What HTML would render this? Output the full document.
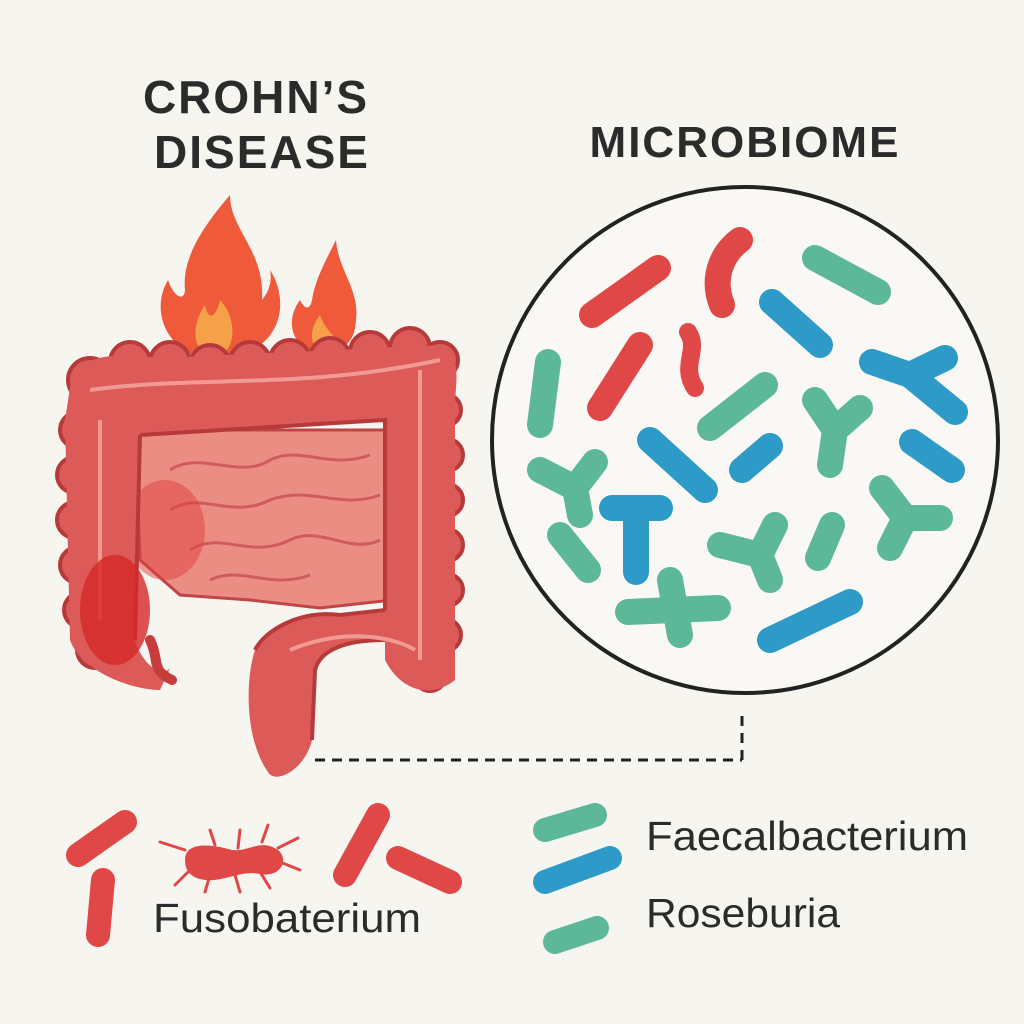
<!DOCTYPE html>
<html><head><meta charset="utf-8"><style>
html,body{margin:0;padding:0;background:#f7f5f0;}
svg{display:block}
</style></head><body>
<svg width="1024" height="1024" viewBox="0 0 1024 1024" xmlns="http://www.w3.org/2000/svg">
<rect width="1024" height="1024" fill="#f7f5f0"/>
<g font-family="Liberation Sans, sans-serif" font-weight="bold" fill="#2b2b2b" text-anchor="middle">
<text x="256" y="113" font-size="46" letter-spacing="2">CROHN’S</text>
<text x="262" y="168" font-size="46" letter-spacing="2">DISEASE</text>
<text x="745" y="157" font-size="44" letter-spacing="2">MICROBIOME</text>
</g>
<!-- flames -->
<path d="M215 360 C165 355 150 310 168 280 C175 300 185 300 185 290 C182 260 200 230 230 195 C230 230 265 250 262 300 C270 290 272 280 270 270 C290 300 285 355 215 360Z" fill="#ee5a3a"/>
<path d="M215 358 C195 355 188 330 205 305 C208 320 215 320 220 300 C235 315 240 350 215 358Z" fill="#f6a04a"/>
<path d="M322 352 C290 350 285 320 300 300 C305 310 310 310 312 300 C315 280 325 262 336 240 C338 270 360 290 356 320 C355 345 340 352 322 352Z" fill="#ee5a3a"/>
<path d="M322 350 C310 348 308 330 320 315 C325 330 335 335 335 340 C333 348 328 350 322 350Z" fill="#f6a04a"/>
<!-- small intestine -->
<path d="M135 430 L390 430 L392 600 L320 608 L250 600 L180 595 L140 560Z" fill="#ec8d84" stroke="#c14545" stroke-width="3"/>
<g fill="none" stroke="#c85050" stroke-width="3" opacity="0.8">
<path d="M170 470 C200 450 240 480 270 460 C300 445 330 470 370 455"/>
<path d="M170 510 C200 490 230 520 270 500 C310 485 340 510 380 495"/>
<path d="M190 550 C220 530 250 560 290 540 C320 525 350 555 380 540"/>
<path d="M210 580 C240 565 270 590 310 575"/>
</g>
<ellipse cx="165" cy="530" rx="40" ry="50" fill="#e04040" opacity="0.5"/>
<!-- haustra bumps -->
<g fill="#dc5a58" stroke="#b73a3a" stroke-width="4">
<circle cx="90" cy="380" r="22"/><circle cx="130" cy="362" r="20"/><circle cx="170" cy="362" r="20"/><circle cx="210" cy="365" r="20"/><circle cx="250" cy="362" r="20"/><circle cx="290" cy="360" r="20"/><circle cx="330" cy="358" r="20"/><circle cx="370" cy="352" r="20"/><circle cx="410" cy="348" r="20"/><circle cx="440" cy="360" r="18"/>
<circle cx="78" cy="430" r="18"/><circle cx="75" cy="475" r="18"/><circle cx="75" cy="520" r="18"/><circle cx="78" cy="565" r="18"/><circle cx="82" cy="610" r="18"/><circle cx="95" cy="650" r="18"/>
<circle cx="445" cy="410" r="16"/><circle cx="447" cy="455" r="16"/><circle cx="447" cy="500" r="16"/><circle cx="447" cy="545" r="16"/><circle cx="447" cy="590" r="16"/><circle cx="445" cy="635" r="16"/><circle cx="430" cy="675" r="16"/>
</g>
<!-- colon -->
<path d="M72 375 C90 350 130 355 160 358 L440 345 C458 350 458 370 455 400 L455 680 C430 700 400 690 385 660 L385 640 C345 640 320 650 315 670 L312 740 C305 770 275 785 268 772 C245 740 245 680 255 650 C265 630 300 610 340 615 L385 610 L385 420 L140 435 L135 640 C140 660 160 680 170 668 L160 690 C130 690 80 670 70 640 L65 420Z" fill="#dc5a58"/>
<path d="M140 435 L385 420 L385 610 M135 640 L140 435 M255 650 C265 630 300 610 340 615 L385 610 M312 740 L315 670 C320 650 345 640 385 640" fill="none" stroke="#b73a3a" stroke-width="4"/>
<path d="M90 390 C200 375 300 390 440 360" fill="none" stroke="#f29a92" stroke-width="4"/>
<path d="M420 370 L420 660" fill="none" stroke="#f29a92" stroke-width="4"/>
<path d="M100 420 L100 620" fill="none" stroke="#f29a92" stroke-width="4"/>
<path d="M290 650 C350 625 400 640 415 650" fill="none" stroke="#f29a92" stroke-width="4"/>
<ellipse cx="115" cy="610" rx="35" ry="55" fill="#d42828" opacity="0.8"/>
<path d="M150 640 C160 660 150 670 172 680" fill="none" stroke="#c83c3c" stroke-width="10" stroke-linecap="round"/>
<!-- dashed -->
<path d="M315 760 L742 760 M742 760 L742 712" stroke="#222" stroke-width="3" stroke-dasharray="10 7" fill="none"/>
<!-- circle -->
<circle cx="745" cy="440" r="253" fill="#f9f8f4" stroke="#222" stroke-width="4"/>
<g fill="none" stroke-linecap="round" stroke-width="26">
<g stroke="#e04848">
<path d="M592 315 L658 268"/>
<path d="M740 240 C720 255 712 280 722 305"/>
<path d="M600 408 L640 345"/>
<path d="M688 332 C700 350 680 365 695 388" stroke-width="18"/>
</g>
<g stroke="#5cb899">
<path d="M815 258 L878 292"/>
<path d="M548 362 L540 425"/>
<path d="M710 428 L765 385"/>
<path d="M540 470 L575 488 M575 488 L595 462 M575 488 L580 515"/>
<path d="M815 400 L835 430 M835 430 L860 408 M835 430 L830 465"/>
<path d="M882 488 L905 518 M905 518 L940 518 M905 518 L890 548"/>
<path d="M560 535 L588 570"/>
<path d="M720 545 L760 555 M760 555 L775 525 M760 555 L770 580"/>
<path d="M832 525 L818 558"/>
<path d="M628 612 L718 608 M670 580 L680 635"/>
</g>
<g stroke="#2e9ac8">
<path d="M772 302 L820 345"/>
<path d="M872 362 L910 375 M910 375 L945 358 M910 375 L955 412"/>
<path d="M650 440 L705 490"/>
<path d="M742 470 L770 446"/>
<path d="M912 442 L952 470"/>
<path d="M612 508 L660 508 M636 508 L636 572"/>
<path d="M770 640 L850 602"/>
</g>
</g>
<!-- legend -->
<g fill="none" stroke-linecap="round" stroke-width="24">
<g stroke="#e04848">
<path d="M78 855 L125 822"/>
<path d="M103 880 L98 935"/>
<path d="M345 875 L378 815"/>
<path d="M398 858 L450 882"/>
</g>
<path d="M545 830 L595 815" stroke="#5cb899"/>
<path d="M545 882 L610 858" stroke="#2e9ac8"/>
<path d="M555 942 L597 928" stroke="#5cb899"/>
</g>
<g stroke="#e04848" stroke-width="3" stroke-linecap="round">
<path d="M185 850 L160 842 M190 870 L175 885 M210 875 L205 892 M235 875 L240 892 M260 872 L270 888 M280 862 L300 870 M278 848 L298 838 M262 842 L268 825 M215 845 L210 830 M238 848 L240 830"/>
</g>
<path d="M185 860 C185 840 215 845 232 850 C250 852 260 838 278 850 C290 860 280 878 260 874 C240 870 225 882 205 880 C190 878 185 870 185 860Z" fill="#e04848"/>
<g font-family="Liberation Sans, sans-serif" fill="#2b2b2b" font-size="41">
<text x="153" y="932" textLength="268" lengthAdjust="spacingAndGlyphs">Fusobaterium</text>
<text x="646" y="850" textLength="322" lengthAdjust="spacingAndGlyphs">Faecalbacterium</text>
<text x="646" y="927" textLength="194" lengthAdjust="spacingAndGlyphs">Roseburia</text>
</g>
</svg>
</body></html>
